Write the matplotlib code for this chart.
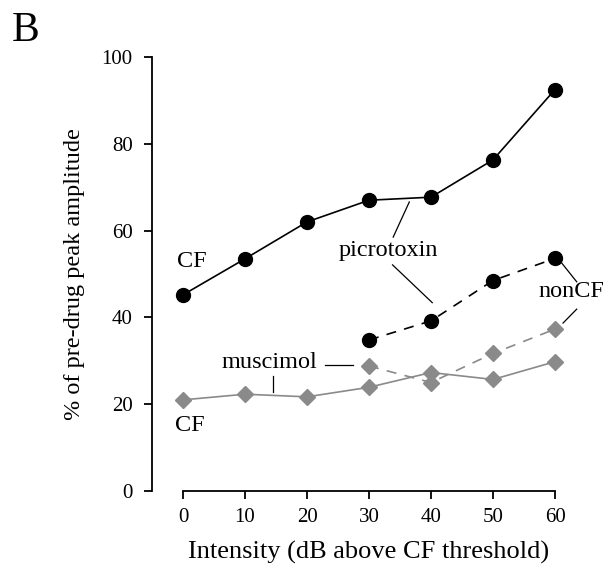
import matplotlib.pyplot as plt

plt.rcParams['font.family'] = ['Liberation Serif', 'DejaVu Serif']

# data
intensity = [0, 10, 20, 30, 40, 50, 60]
intensity_noncf = [30, 40, 50, 60]
picro_cf = [45.2, 53.5, 62.0, 67.0, 67.7, 76.3, 92.5]
picro_noncf = [34.8, 39.2, 48.5, 53.6]
musc_cf = [21.0, 22.3, 21.7, 23.9, 27.3, 25.7, 29.8]
musc_noncf = [28.8, 25.0, 31.7, 37.3]

xticks = [0, 10, 20, 30, 40, 50, 60]
yticks = [0, 20, 40, 60, 80, 100]

gray = '#8a8a8a'

fig = plt.figure(figsize=(6.1, 5.77), dpi=100)
ax = fig.add_axes([183 / 610, 86 / 577, 372 / 610, 434 / 577])

# muscimol (grey diamonds)
ax.plot(intensity, musc_cf, color=gray, lw=1.2, marker='D', ms=8,
        mfc=gray, mec=gray, clip_on=False, zorder=3)
ax.plot(intensity_noncf, musc_noncf, color=gray, lw=1.2, ls=(0, (6, 5)),
        marker='D', ms=8, mfc=gray, mec=gray, clip_on=False, zorder=3)

# picrotoxin (black circles)
ax.plot(intensity, picro_cf, color='black', lw=1.2, marker='o', ms=10,
        mfc='black', mec='black', clip_on=False, zorder=4)
ax.plot(intensity_noncf, picro_noncf, color='black', lw=1.2, ls=(0, (6, 5)),
        marker='o', ms=10, mfc='black', mec='black', clip_on=False, zorder=4)

ax.set_xlim(0, 60)
ax.set_ylim(0, 100)
ax.set_xticks(xticks)
ax.set_yticks(yticks)

for s in ['top', 'right']:
    ax.spines[s].set_visible(False)
ax.spines['left'].set_position(('outward', 22.3))
ax.spines['left'].set_linewidth(1.3)
ax.spines['bottom'].set_linewidth(1.3)
ax.tick_params(axis='y', direction='out', length=6, width=1.3, pad=8,
               labelsize=15)
ax.tick_params(axis='x', direction='out', length=6, width=1.3, pad=6,
               labelsize=15)

ax.set_xlabel('Intensity (dB above CF threshold)', fontsize=19, labelpad=10)
ax.set_ylabel('% of pre-drug peak amplitude', fontsize=17.5, labelpad=12)

# annotations
txt = dict(fontsize=17.5, ha='center', va='center')
ax.text(1.45, 52.8, 'CF', **txt)
ax.text(1.1, 15.2, 'CF', **txt)
ax.text(33.1, 55.5, 'picrotoxin', **txt)
ax.text(62.7, 45.9, 'nonCF', **txt)
ax.text(13.95, 29.5, 'muscimol', **txt)

lk = dict(color='black', lw=0.9, clip_on=False)
ax.plot([36.5, 33.9], [66.6, 58.5], **lk)
ax.plot([33.8, 40.2], [52.1, 43.4], **lk)
ax.plot([61.1, 63.5], [52.5, 48.2], **lk)
ax.plot([63.5, 61.3], [41.9, 38.7], **lk)
ax.plot([22.9, 27.4], [29.0, 29.0], **lk)
ax.plot([14.5, 14.5], [26.5, 22.8], **lk)

fig.text(12 / 610, 1 - 31 / 577, 'B', fontsize=30, ha='left', va='center')

fig.savefig('out.png', dpi=100)
